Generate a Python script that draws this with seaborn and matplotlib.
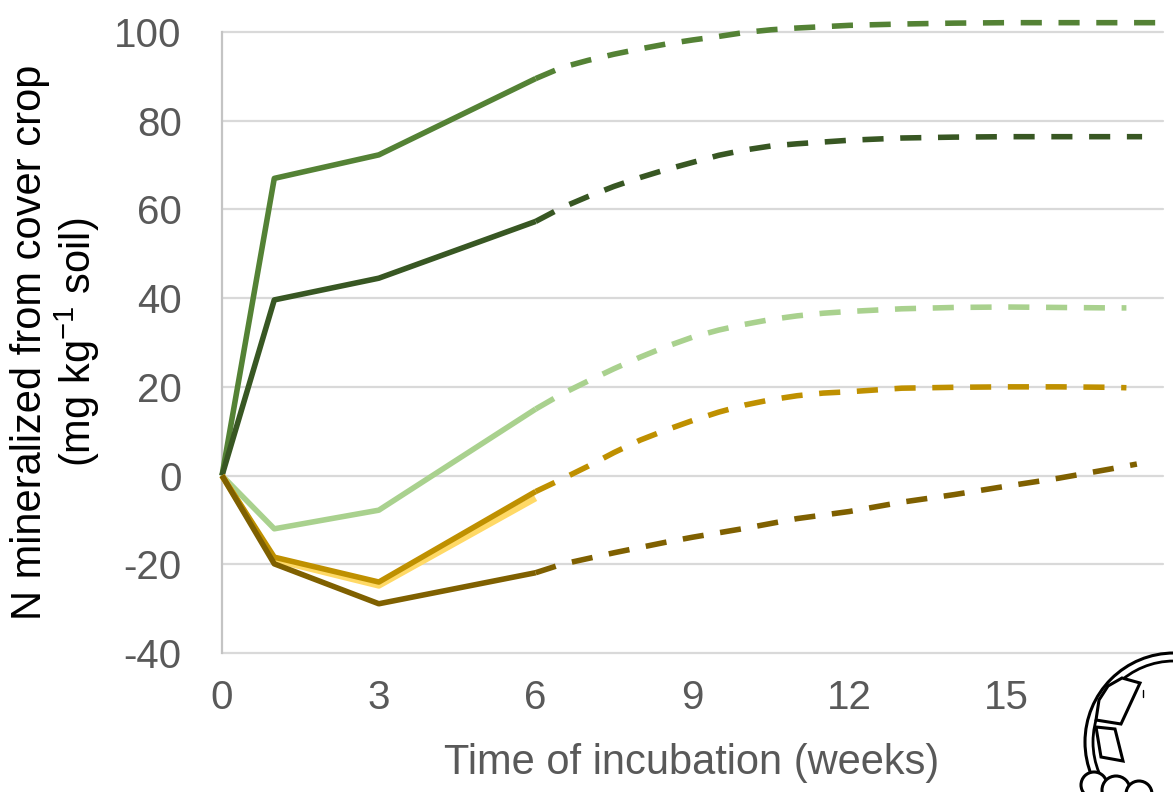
import numpy as np
import pandas as pd
import matplotlib
matplotlib.use("Agg")
import matplotlib.pyplot as plt
import seaborn as sns
from matplotlib.patches import Circle, Polygon

# ---------------- data ----------------
weeks_solid = [0, 1, 3, 6]
solid_a = [0, 67.0, 72.3, 89.5]      # medium green
solid_b = [0, 39.6, 44.5, 57.3]      # dark green
solid_c = [0, -12.0, -7.8, 15.0]     # light green
solid_d = [0, -18.4, -24.0, -3.6]    # gold
solid_e = [0, -19.0, -24.8, -5.1]    # light yellow
solid_f = [0, -19.9, -28.9, -21.9]   # brown

weeks_dash = [6, 6.5, 7, 7.5, 8, 8.5, 9, 9.5, 10, 10.5, 11, 11.5, 12, 13, 14, 15, 16, 17]
dash_a = [89.5, 92.0, 93.6, 95.0, 96.2, 97.3, 98.2, 99.0, 99.9, 100.5, 100.9, 101.2, 101.5, 101.8, 102.0, 102.1, 102.1, 102.1]
dash_b = [57.3, 60.4, 62.9, 65.2, 67.2, 69.0, 70.6, 72.2, 73.4, 74.3, 74.8, 75.2, 75.6, 76.1, 76.3, 76.4, 76.4, 76.4]
dash_c = [15.0, 18.4, 21.3, 24.1, 26.7, 29.1, 31.2, 32.8, 34.1, 35.2, 36.0, 36.6, 37.0, 37.6, 37.9, 38.0, 37.9, 37.8]
dash_d = [-3.6, -0.8, 2.1, 5.2, 8.0, 10.3, 12.4, 14.3, 15.9, 17.1, 18.0, 18.6, 18.9, 19.7, 19.9, 20.0, 20.0, 19.9]
dash_f = [-21.9, -20.0, -18.7, -17.4, -16.2, -15.0, -13.9, -12.9, -11.9, -10.8, -9.7, -8.9, -8.1, -6.0, -4.3, -2.4, -0.6, 1.5]
end_weeks = {"a": 17.9, "b": 17.6, "c": 17.3, "d": 17.3, "f": 17.5}
end_values = {"a": 102.1, "b": 76.4, "c": 37.8, "d": 19.8, "f": 2.6}

x_ticks = [0, 3, 6, 9, 12, 15]
y_ticks = [-40, -20, 0, 20, 40, 60, 80, 100]
x_label = "Time of incubation (weeks)"
y_label = "N mineralized from cover crop\n(mg kg$^{-1}$ soil)"

colors = {"a": "#548235", "b": "#385723", "c": "#A9D18E",
          "d": "#BF9000", "e": "#FFD966", "f": "#7F6000"}

# ---------------- style ----------------
sns.set_style("white")
plt.rcParams["font.family"] = ["Liberation Sans", "DejaVu Sans"]
plt.rcParams["mathtext.fontset"] = "custom"
plt.rcParams["mathtext.rm"] = "Liberation Sans"
plt.rcParams["mathtext.it"] = "Liberation Sans"
plt.rcParams["mathtext.default"] = "regular"

W, H = 1173, 792
fig = plt.figure(figsize=(W / 100, H / 100), dpi=100)
left, right, top, bottom = 222, 1163, 32, 653
ax = fig.add_axes([left / W, 1 - bottom / H, (right - left) / W, (bottom - top) / H])

LW = 4.0
DASH = (0, (3.8, 3.0))

solid = {"a": solid_a, "b": solid_b, "c": solid_c, "d": solid_d, "e": solid_e, "f": solid_f}
dashed = {"a": dash_a, "b": dash_b, "c": dash_c, "d": dash_d, "f": dash_f}

order = ["c", "a", "b", "e", "d", "f"]
for key in order:
    sns.lineplot(x=weeks_solid, y=solid[key], ax=ax, color=colors[key],
                 lw=LW + (0.5 if key == "e" else 0), solid_capstyle="butt",
                 solid_joinstyle="round", legend=False, zorder=3, clip_on=False)
    if key in dashed:
        xs = weeks_dash + [end_weeks[key]]
        ys = dashed[key] + [end_values[key]]
        sns.lineplot(x=xs, y=ys, ax=ax, color=colors[key], lw=LW,
                     linestyle=DASH, dash_capstyle="butt", legend=False,
                     zorder=3, clip_on=False)

ax.set_xlim(0, 18)
ax.set_ylim(-40, 100)
ax.set_xticks(x_ticks)
ax.set_yticks(y_ticks)
ax.set_xticklabels([str(v) for v in x_ticks])
ax.set_yticklabels([str(v) for v in y_ticks])
ax.tick_params(axis="both", length=0, labelsize=29, labelcolor="#595959")
ax.tick_params(axis="x", pad=19)
ax.tick_params(axis="y", pad=29)
ax.set_xlabel("")
ax.set_ylabel("")

ax.grid(axis="y", color="#D9D9D9", lw=1.6)
ax.grid(axis="x", visible=False)
ax.set_axisbelow(True)
for side in ["top", "right", "bottom"]:
    ax.spines[side].set_visible(False)
ax.spines["left"].set_color("#C4C4C4")
ax.spines["left"].set_linewidth(1.6)
for gl in ax.get_ygridlines():
    gl.set_clip_on(False)

fig.text(56 / W, 1 - 342 / H, y_label, rotation=90, ha="center", va="center",
         multialignment="center", fontsize=30, color="black", linespacing=1.05)
fig.text(692 / W, 1 - 763 / H, x_label, ha="center", va="center",
         fontsize=30, color="#595959")

# ---------------- decorative logo (bottom-right) ----------------
ov = fig.add_axes([0, 0, 1, 1], zorder=10)
ov.set_xlim(0, W)
ov.set_ylim(H, 0)
ov.axis("off")
ov.patch.set_alpha(0)
ov.add_patch(Circle((1174, 742), 89, facecolor="white", edgecolor="black", lw=2.2))
ov.add_patch(Circle((1174, 742), 81, facecolor="none", edgecolor="black", lw=2.0))
ov.add_patch(Polygon([(1108, 686), (1122, 678), (1140, 683), (1121, 724), (1096, 720), (1099, 700)],
                     closed=True, facecolor="white", edgecolor="black", lw=2.2))
ov.add_patch(Polygon([(1096, 727), (1115, 729), (1123, 761), (1101, 757)],
                     closed=True, facecolor="white", edgecolor="black", lw=2.2))
for (cx, cy), r in zip([(1094, 785), (1116, 790), (1139, 794)], [13, 14, 13]):
    ov.add_patch(Circle((cx, cy), r, facecolor="white", edgecolor="black", lw=2.2))
ov.plot([1143, 1143], [690, 697], color="black", lw=1.0)

fig.savefig("out.png", dpi=100)
